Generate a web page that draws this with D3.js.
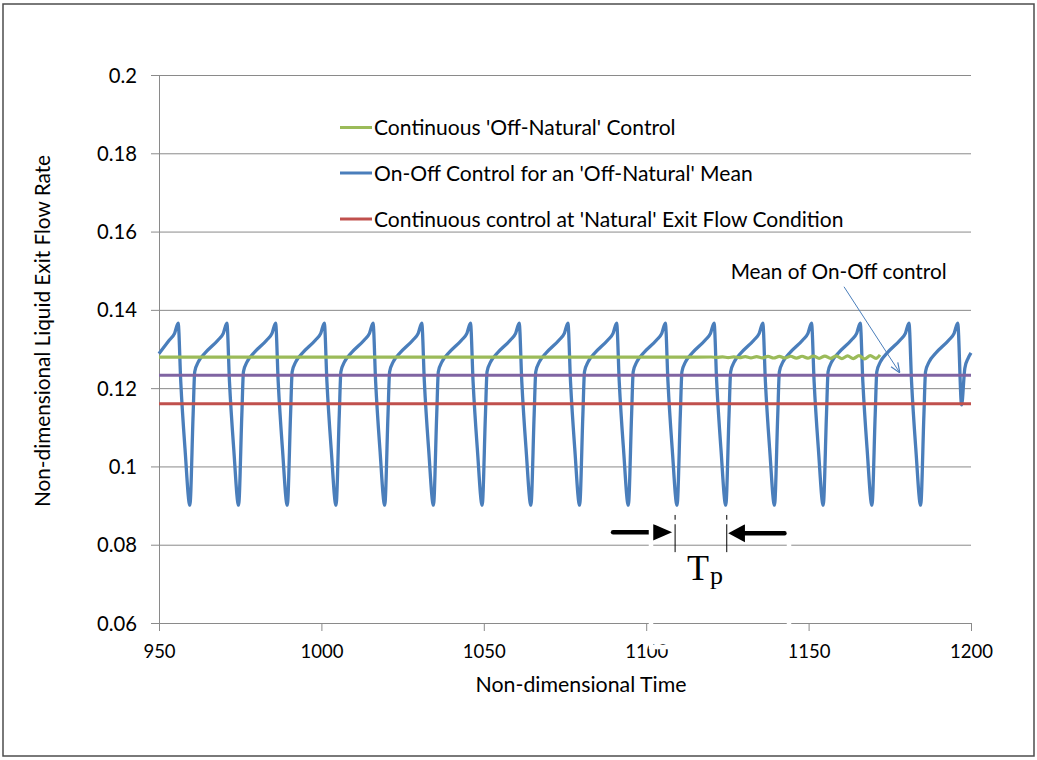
<!DOCTYPE html>
<html><head><meta charset="utf-8">
<script src="https://cdn.jsdelivr.net/npm/d3@7"></script>
<style>body{margin:0;background:#fff}svg{display:block}</style>
</head><body>
<svg id="c" width="1037" height="760"></svg>
<script>
// ---------------- data ----------------
const xTicks = [950, 1000, 1050, 1100, 1150, 1200];
const yTicks = [0.06, 0.08, 0.1, 0.12, 0.14, 0.16, 0.18, 0.2];
const seriesNames = [
  "Continuous 'Off-Natural' Control",
  "On-Off Control for an 'Off-Natural' Mean",
  "Continuous control at 'Natural' Exit Flow Condition"
];
// On-Off control: peak times of each cycle, and the shape of one cycle (offset from peak, value)
const bluePeakTimes = [955.9, 970.9, 985.9, 1000.9, 1015.9, 1030.9, 1045.9, 1060.9,
  1075.9, 1090.9, 1105.9, 1120.9, 1135.9, 1150.9, 1165.9, 1180.9];
const blueCycleShape = [[0, 0.1366], [0.8, 0.1216], [2.1, 0.1046], [3.6, 0.0901], [4.6, 0.1131],
  [5.1, 0.1242], [6.2, 0.1267], [8.2, 0.1289], [12.3, 0.1323], [13.9, 0.1340]];
const blueStart = [[950, 0.1288], [953.2, 0.1323], [954.8, 0.1340]];
const blueEnd = [[1195.9, 0.1366], [1197.1, 0.1157], [1198.1, 0.1251], [1199.1, 0.1276], [1200, 0.1290]];
// Continuous 'Off-Natural' control
const greenPoints = [[950, 0.1279], [1100, 0.1279], [1110, 0.12792], [1120, 0.12795], [1121.75, 0.12785],
  [1123.5, 0.1280], [1125.25, 0.1278], [1127, 0.1280], [1128.75, 0.1278], [1130.5, 0.12805],
  [1132.25, 0.12775], [1134, 0.12805], [1135.75, 0.12775], [1137.5, 0.1281], [1139.25, 0.1277],
  [1141, 0.1281], [1142.75, 0.1277], [1144.5, 0.12815], [1146.25, 0.12765], [1148, 0.12815],
  [1149.75, 0.12765], [1151.5, 0.1282], [1153.25, 0.1276], [1155, 0.1282], [1156.75, 0.1276],
  [1158.5, 0.12825], [1160.25, 0.12755], [1162, 0.12825], [1163.75, 0.12755], [1165.5, 0.1283],
  [1167.25, 0.1275], [1169, 0.1283], [1170.75, 0.1276], [1172, 0.1285]];
const redValue = 0.1160;     // continuous control at natural exit flow
const purpleValue = 0.1233;  // mean of on-off control
const xRange = [950, 1200];
// annotations
const tpLeft = 1108.9, tpRight = 1124.8;

// ---------------- chart ----------------
const svg = d3.select('#c');
const FONT = "Lato, 'Open Sans', sans-serif";
const x = d3.scaleLinear().domain(xRange).range([159, 971]);
const y = d3.scaleLinear().domain([0.06, 0.2]).range([623, 75]);
const GRID = '#8a8a8a';

// frame
svg.append('rect').attr('x', 3).attr('y', 4).attr('width', 1031).attr('height', 752)
  .attr('fill', '#fff').attr('stroke', '#4d4d4d').attr('stroke-width', 1.5);

// gridlines
svg.append('g').attr('transform', `translate(${x(950)},0)`)
  .call(d3.axisLeft(y).tickValues(yTicks.slice(1)).tickSize(-(x(1200) - x(950))).tickFormat(''))
  .call(g => g.select('.domain').remove())
  .call(g => g.selectAll('line').attr('stroke', GRID).attr('stroke-width', 1));

// y axis
const yAx = svg.append('g').attr('transform', `translate(${x(950)},0)`)
  .call(d3.axisLeft(y).tickValues(yTicks).tickSize(8).tickPadding(14)
    .tickFormat(d => String(+d.toFixed(2))).tickSizeOuter(0));
yAx.select('.domain').attr('stroke', GRID);
yAx.selectAll('line').attr('stroke', GRID);
yAx.selectAll('text').attr('font-family', FONT).attr('font-size', 19).attr('fill', '#000').attr('dy', '0.35em');

// x axis
const xAx = svg.append('g').attr('transform', `translate(0,${y(0.06)})`)
  .call(d3.axisBottom(x).tickValues(xTicks).tickSize(8).tickPadding(14)
    .tickFormat(d3.format('d')).tickSizeOuter(0));
xAx.select('.domain').attr('stroke', GRID);
xAx.selectAll('line').attr('stroke', GRID);
xAx.selectAll('text').attr('font-family', FONT).attr('font-size', 19).attr('fill', '#000').attr('dy', '0.71em');

// fit tick font size to the reference widths
function measureScale(sel, target) { return target / sel.node().getComputedTextLength(); }
const xs = measureScale(xAx.selectAll('text').filter(d => d === 1000), 43);
xAx.selectAll('text').attr('font-size', 19 * xs);
const ys = measureScale(yAx.selectAll('text').filter(d => Math.abs(d - 0.18) < 1e-9), 40);
yAx.selectAll('text').attr('font-size', 19 * ys);

// axis titles
const xt = svg.append('text').attr('x', 581).attr('y', 692).attr('text-anchor', 'middle')
  .attr('font-family', FONT).attr('font-size', 19).text('Non-dimensional Time');
xt.attr('font-size', 19 * measureScale(xt, 211));
const yt = svg.append('text').attr('transform', 'translate(50,331) rotate(-90)').attr('text-anchor', 'middle')
  .attr('font-family', FONT).attr('font-size', 19).text('Non-dimensional Liquid Exit Flow Rate');
yt.attr('font-size', 19 * measureScale(yt, 352));

// series
const line = d3.line().x(d => x(d[0])).y(d => y(d[1])).curve(d3.curveMonotoneX);
const blueData = blueStart.concat(
  bluePeakTimes.flatMap(p => blueCycleShape.map(([o, v]) => [p + o, v])),
  blueEnd);
const COLORS = { green: '#9BBB59', blue: '#4A7EBB', red: '#C0504D', purple: '#8064A2' };
svg.append('path').datum(blueData).attr('d', line).attr('fill', 'none')
  .attr('stroke', COLORS.blue).attr('stroke-width', 3.3).attr('stroke-linejoin', 'round');
svg.append('path').datum(greenPoints).attr('d', line).attr('fill', 'none')
  .attr('stroke', COLORS.green).attr('stroke-width', 3.2);
svg.append('path').datum([[xRange[0], redValue], [xRange[1], redValue]]).attr('d', line).attr('fill', 'none')
  .attr('stroke', COLORS.red).attr('stroke-width', 3);
svg.append('path').datum([[xRange[0], purpleValue], [xRange[1], purpleValue]]).attr('d', line).attr('fill', 'none')
  .attr('stroke', COLORS.purple).attr('stroke-width', 3);

// legend
const legendColors = [COLORS.green, COLORS.blue, COLORS.red];
const legendY = [127.5, 173, 219];
const lg = svg.append('g');
const ltexts = [];
seriesNames.forEach((name, i) => {
  lg.append('line').attr('x1', 340).attr('x2', 372).attr('y1', legendY[i]).attr('y2', legendY[i])
    .attr('stroke', legendColors[i]).attr('stroke-width', 3);
  ltexts.push(lg.append('text').attr('x', 374).attr('y', legendY[i] + 7.5)
    .attr('font-family', FONT).attr('font-size', 19).text(name));
});
const ls = measureScale(ltexts[2], 470);
ltexts.forEach(t => t.attr('font-size', 19 * ls));

// "Mean of On-Off control" annotation
const mt = svg.append('text').attr('x', x(1126)).attr('y', y(0.1479))
  .attr('font-family', FONT).attr('font-size', 19).text('Mean of On-Off control');
mt.attr('font-size', 19 * measureScale(mt, 216));
svg.append('defs').append('marker').attr('id', 'oa').attr('viewBox', '0 0 10 10')
  .attr('refX', 10).attr('refY', 5).attr('markerWidth', 10).attr('markerHeight', 10)
  .attr('markerUnits', 'userSpaceOnUse').attr('orient', 'auto')
  .append('path').attr('d', 'M0,1 L10,5 L0,9').attr('fill', 'none').attr('stroke', COLORS.blue).attr('stroke-width', 1.2);
svg.append('line').attr('x1', x(1160.9)).attr('y1', y(0.1459)).attr('x2', x(1178.1)).attr('y2', y(0.1239))
  .attr('stroke', COLORS.blue).attr('stroke-width', 1).attr('marker-end', 'url(#oa)');

// Tp annotation
const tpTop = y(0.0876), tpBot = y(0.0781), arrY = y(0.0832);
[tpLeft, tpRight].forEach(t => {
  svg.append('line').attr('x1', x(t)).attr('x2', x(t)).attr('y1', tpTop).attr('y2', tpBot)
    .attr('stroke', '#000').attr('stroke-width', 1);
});
// left arrow (pointing right)
svg.append('line').attr('x1', x(1089.8)).attr('x2', x(1101.6)).attr('y1', arrY).attr('y2', arrY)
  .attr('stroke', '#000').attr('stroke-width', 4.5).attr('stroke-linecap', 'round');
svg.append('path').attr('d', `M${x(1101.6)},${arrY - 9}L${x(tpLeft) - 3},${arrY}L${x(1101.6)},${arrY + 9}Z`).attr('fill', '#000');
// right arrow (pointing left)
svg.append('line').attr('x1', x(1130.2)).attr('x2', x(1142.6)).attr('y1', arrY + 1).attr('y2', arrY + 1)
  .attr('stroke', '#000').attr('stroke-width', 4.5).attr('stroke-linecap', 'round');
svg.append('path').attr('d', `M${x(1130.4)},${arrY - 8}L${x(tpRight) + 1.5},${arrY + 1}L${x(1130.4)},${arrY + 10}Z`).attr('fill', '#000');
// white text-box border (as in the reference)
svg.append('rect').attr('x', 651).attr('y', 522).attr('width', 138).attr('height', 125)
  .attr('fill', 'none').attr('stroke', '#fff').attr('stroke-width', 4.5);
const tp = svg.append('text').attr('x', 687).attr('y', 580)
  .attr('font-family', "'Liberation Serif', 'Times New Roman', serif").attr('font-size', 36);
tp.append('tspan').text('T');
tp.append('tspan').attr('font-size', 26).attr('dy', 4).attr('dx', 1).text('p');
</script>
</body></html>
